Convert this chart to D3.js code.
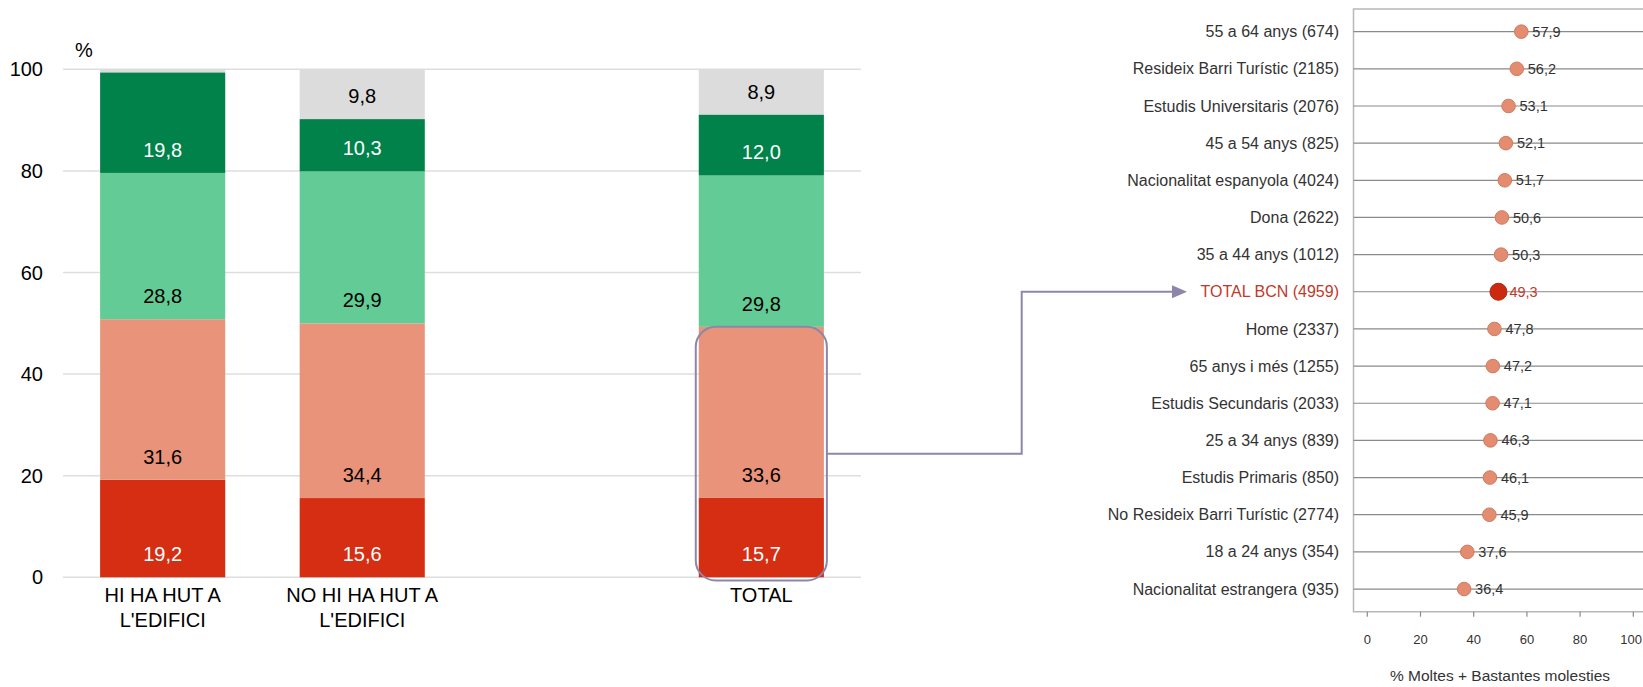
<!DOCTYPE html>
<html>
<head>
<meta charset="utf-8">
<script src="https://cdn.jsdelivr.net/npm/d3@7"></script>
<style>
  html, body { margin: 0; padding: 0; background: #fff; }
  svg { display: block; font-family: "Liberation Sans", Arial, sans-serif; }
</style>
</head>
<body>
<svg class="chart"></svg>
<script>
// left chart: stacked bars
var groups = ["HI HA HUT A|L'EDIFICI", "NO HI HA HUT A|L'EDIFICI", "", "TOTAL"];
var segNames = ["molt", "bastant", "poc", "gens", "nsnc"];
var segColors = ["#d52e12", "#e8937a", "#63cc96", "#00824a", "#dcdcdc"];
var segText = ["#fff", "#000", "#000", "#fff", "#000"];
var hutYes = [19.2, 31.6, 28.8, 19.8, 0.6];
var hutNo = [15.6, 34.4, 29.9, 10.3, 9.8];
var total = [15.7, 33.6, 29.8, 12.0, 8.9];
var yTicks = [0, 20, 40, 60, 80, 100];

// right chart: dot plot
var cats = ["55 a 64 anys (674)", "Resideix Barri Turístic (2185)", "Estudis Universitaris (2076)",
  "45 a 54 anys (825)", "Nacionalitat espanyola (4024)", "Dona (2622)", "35 a 44 anys (1012)",
  "TOTAL BCN (4959)", "Home (2337)", "65 anys i més (1255)", "Estudis Secundaris (2033)",
  "25 a 34 anys (839)", "Estudis Primaris (850)", "No Resideix Barri Turístic (2774)",
  "18 a 24 anys (354)", "Nacionalitat estrangera (935)"];
var pct = [57.9, 56.2, 53.1, 52.1, 51.7, 50.6, 50.3, 49.3, 47.8, 47.2, 47.1, 46.3, 46.1, 45.9, 37.6, 36.4];
var xTicks = [0, 20, 40, 60, 80, 100];
var totalCat = "TOTAL BCN (4959)";

var W = 1643, H = 687;
var svg = d3.select(".chart").attr("width", W).attr("height", H);
var fmt = function(v) { return d3.format(".1f")(v).replace(".", ","); };

// ---- stacked bars
var x = d3.scaleBand().domain(d3.range(groups.length)).range([63, 861]).paddingInner(0.373).paddingOuter(0.186);
var y = d3.scaleLinear().domain([0, 100]).range([577.3, 69.3]);

var left = svg.append("g");
left.selectAll(".grid").data(yTicks).enter().append("line")
    .attr("x1", 63).attr("x2", 861)
    .attr("y1", function(d) { return y(d); }).attr("y2", function(d) { return y(d); })
    .attr("stroke", "#dedede").attr("stroke-width", 1.5);
left.selectAll(".tick").data(yTicks).enter().append("text")
    .attr("x", 43).attr("y", function(d) { return y(d); }).attr("dy", "0.35em")
    .attr("text-anchor", "end").attr("font-size", 20).text(function(d) { return d; });
left.append("text").attr("x", 75).attr("y", 57).attr("font-size", 20).text("%");

var barData = [hutYes, hutNo, null, total];
barData.forEach(function(vals, i) {
    if (!vals) return;
    var stack = [], acc = 0;
    vals.forEach(function(v, k) { stack.push({k: k, v: v, y0: acc, y1: acc + v}); acc += v; });
    var g = left.append("g");
    g.selectAll("rect").data(stack).enter().append("rect")
        .attr("x", x(i)).attr("width", x.bandwidth())
        .attr("y", function(d) { return y(d.y1); })
        .attr("height", function(d) { return y(d.y0) - y(d.y1); })
        .attr("fill", function(d) { return segColors[d.k]; });
    g.selectAll("text").data(stack.filter(function(d) { return d.v > 2; })).enter().append("text")
        .attr("x", x(i) + x.bandwidth() / 2)
        .attr("y", function(d) { return y(d.y0) - 23; }).attr("dy", "0.35em")
        .attr("text-anchor", "middle").attr("font-size", 20)
        .attr("fill", function(d) { return segText[d.k]; })
        .text(function(d) { return fmt(d.v); });
});

groups.forEach(function(name, i) {
    var t = left.append("text").attr("text-anchor", "middle").attr("font-size", 20);
    name.split("|").forEach(function(line, j) {
        t.append("tspan").attr("x", x(i) + x.bandwidth() / 2).attr("y", 602 + j * 25).text(line);
    });
});

// highlight box around total 'molt + bastant'
var hiTop = y(total[0] + total[1]);
var bx = x(3) - 3, bw = x.bandwidth() + 6;
left.append("rect")
    .attr("x", bx).attr("y", hiTop).attr("width", bw).attr("height", 580.5 - hiTop)
    .attr("rx", 20).attr("ry", 20)
    .attr("fill", "none").attr("stroke", "#8e86a8").attr("stroke-width", 2);

// ---- dot plot
var px = d3.scaleLinear().domain([0, 100]).range([1367.3, 1633.3]);
var py = d3.scalePoint().domain(cats).range([9, 611.7]).padding(0.61);
var axL = 1353.5, axT = 9, axB = 611.7;

var right = svg.append("g");
right.append("path")
    .attr("d", "M" + W + "," + axT + "H" + axL + "V" + axB + "H" + W)
    .attr("fill", "none").attr("stroke", "#b8b8b8").attr("stroke-width", 1.5);
right.selectAll(".row").data(cats).enter().append("line")
    .attr("x1", axL).attr("x2", W)
    .attr("y1", function(d) { return py(d); }).attr("y2", function(d) { return py(d); })
    .attr("stroke", "#8a8a8a").attr("stroke-width", 1.2);

right.selectAll(".xt").data(xTicks).enter().append("line")
    .attr("x1", function(d) { return px(d); }).attr("x2", function(d) { return px(d); })
    .attr("y1", axB).attr("y2", axB + 5).attr("stroke", "#8a8a8a").attr("stroke-width", 1.2);
right.selectAll(".xl").data(xTicks).enter().append("text")
    .attr("x", function(d) { return d === 100 ? W - 1 : px(d); }).attr("y", 639).attr("dy", "0.35em")
    .attr("text-anchor", function(d) { return d === 100 ? "end" : "middle"; })
    .attr("font-size", 13).attr("fill", "#333")
    .text(function(d) { return d; });
right.append("text").attr("x", 1500).attr("y", 676).attr("dy", "0.35em")
    .attr("text-anchor", "middle").attr("font-size", 15.5).attr("fill", "#333")
    .text("% Moltes + Bastantes molesties");

right.selectAll(".cl").data(cats).enter().append("text")
    .attr("x", 1339).attr("y", function(d) { return py(d); }).attr("dy", "0.35em")
    .attr("text-anchor", "end").attr("font-size", 16)
    .attr("fill", function(d) { return d === totalCat ? "#c0392b" : "#333"; })
    .text(function(d) { return d; });

var rows = cats.map(function(c, i) { return {c: c, v: pct[i]}; });
right.selectAll(".dot").data(rows).enter().append("circle")
    .attr("cx", function(d) { return px(d.v); }).attr("cy", function(d) { return py(d.c); })
    .attr("r", function(d) { return d.c === totalCat ? 8.5 : 6.8; })
    .attr("fill", function(d) { return d.c === totalCat ? "#cc2a10" : "#e48c70"; })
    .attr("stroke", function(d) { return d.c === totalCat ? "#b02410" : "#d07a60"; })
    .attr("stroke-width", 1);
right.selectAll(".vl").data(rows).enter().append("text")
    .attr("x", function(d) { return px(d.v) + 11; }).attr("y", function(d) { return py(d.c); }).attr("dy", "0.35em")
    .attr("font-size", 14.5)
    .attr("fill", function(d) { return d.c === totalCat ? "#c0392b" : "#333"; })
    .text(function(d) { return fmt(d.v); });

// ---- connector from highlight box to TOTAL BCN row
var midY = (hiTop + 580.5) / 2;
var ty = py(totalCat);
svg.append("path")
    .attr("d", "M" + (bx + bw) + "," + midY + "H1021.7V" + ty + "H1173")
    .attr("fill", "none").attr("stroke", "#8e86a8").attr("stroke-width", 2);
svg.append("path")
    .attr("d", "M1172," + (ty - 6.5) + "L1187," + ty + "L1172," + (ty + 6.5) + "Z")
    .attr("fill", "#8e86a8");
</script>
</body>
</html>
